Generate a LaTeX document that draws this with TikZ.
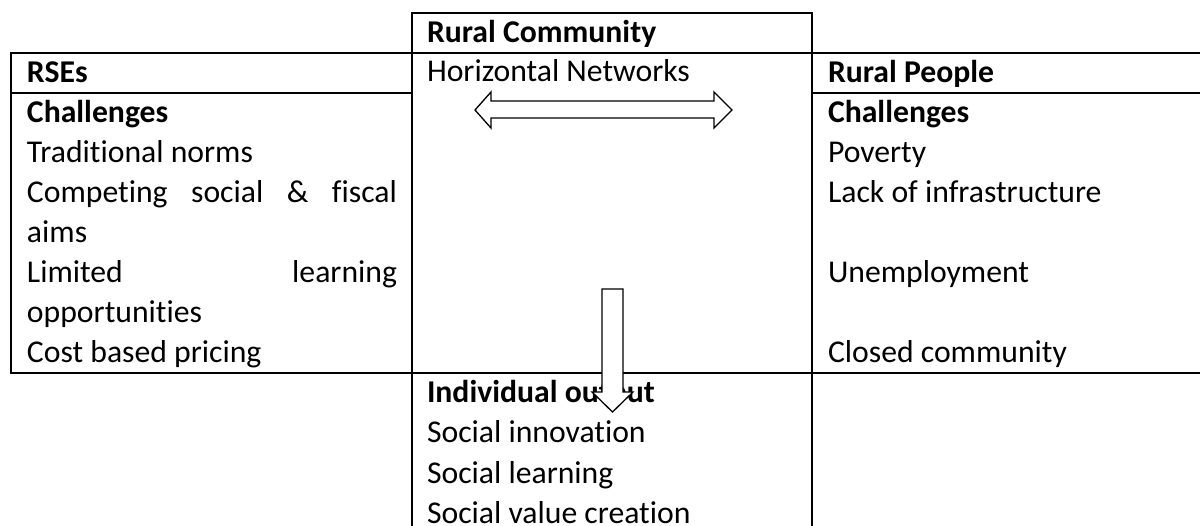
\documentclass[tikz,border=0pt]{standalone}
\usepackage{fontspec}
\setmainfont{Carlito}[Ligatures={NoCommon}]
\begin{document}
\begin{tikzpicture}[x=1pt,y=-1pt,
  txt/.style={anchor=base west,inner sep=0pt,outer sep=0pt,font=\fontsize{31.7}{40}\selectfont},
  hdr/.style={txt,font=\fontsize{31.7}{40}\selectfont\bfseries},
  rule/.style={line width=1.3pt,line cap=rect},
  blockarrow/.style={draw=black,fill=white,line width=1.3pt,line join=miter}]
\useasboundingbox (0,0) rectangle (1200,526);
% table lines
\draw[rule] (412,526) -- (412,13) -- (812,13) -- (812,526);
\draw[rule] (11,53) -- (1200,53);
\draw[rule] (11,93) -- (412,93);
\draw[rule] (812,93) -- (1200,93);
\draw[rule] (11,373) -- (1200,373);
\draw[rule] (11,53) -- (11,373);
% left column
\node[hdr] (rse) at (27,83) {RSEs};
\node[hdr] (chl) at (27,123) {Challenges};
\node[txt] (l1) at (27,163) {Traditional norms};
\node[txt] (l2) at (27,203) {\hbox to 370pt{Competing\hfill social\hfill \&\hfill fiscal}};
\node[txt] (l3) at (27,243) {aims};
\node[txt] (l4) at (27,283) {\hbox to 370pt{Limited\hfill learning}};
\node[txt] (l5) at (27,323) {opportunities};
\node[txt] (l6) at (27,363) {Cost based pricing};
% center column
\node[hdr] (rc) at (427,43) {Rural Community};
\node[txt] (hn) at (427,82) {Horizontal Networks};
\node[hdr] (io) at (427,403) {Individual output};
\node[txt] (c1) at (427,443) {Social innovation};
\node[txt] (c2) at (427,483) {Social learning};
\node[txt] (c3) at (427,523) {Social value creation};
% right column
\node[hdr] (rp) at (828,83) {Rural People};
\node[hdr] (chr) at (828,123) {Challenges};
\node[txt] (r1) at (828,163) {Poverty};
\node[txt] (r2) at (828,203) {Lack of infrastructure};
\node[txt] (r3) at (828,283) {Unemployment};
\node[txt] (r4) at (828,363) {Closed community};
% double-headed block arrow
\draw[blockarrow] (475,110) -- (491,92) -- (491,101) -- (714,101) -- (714,92)
  -- (732,110) -- (714,128) -- (714,118) -- (491,118) -- (491,128) -- cycle;
% downward block arrow
\draw[blockarrow] (602,289) -- (623,289) -- (623,392) -- (633,392) -- (612.5,412)
  -- (592,392) -- (602,392) -- cycle;
\end{tikzpicture}
\end{document}
